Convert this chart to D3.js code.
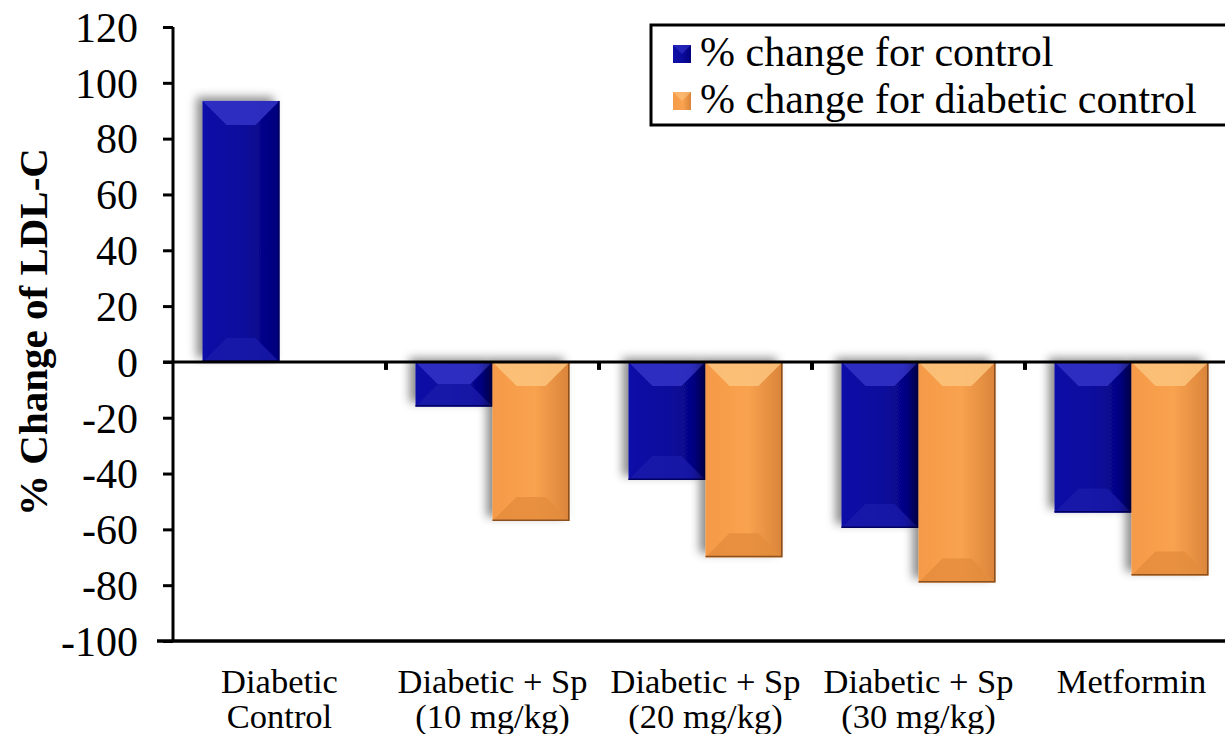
<!DOCTYPE html>
<html lang="en">
<head>
<meta charset="UTF-8">
<title>% Change of LDL-C</title>
<script src="https://d3js.org/d3.v7.min.js"></script>
<style>
  body { margin: 0; background: #fff; }
</style>
</head>
<body>
<div class="chart"></div>
<script>
// data
const categories = ["Diabetic|Control", "Diabetic + Sp|(10 mg/kg)", "Diabetic + Sp|(20 mg/kg)", "Diabetic + Sp|(30 mg/kg)", "Metformin"];
const seriesNames = ["% change for control", "% change for diabetic control"];
const controlChange = [93.5, -16, -42.3, -59.5, -54];
const diabeticChange = [null, -57, -70, -79, -76.5];
const yTicks = [120, 100, 80, 60, 40, 20, 0, -20, -40, -60, -80, -100];

const W = 1225, H = 734;
const FONT = "Liberation Serif";

const svg = d3.select(".chart").append("svg").attr("width", W).attr("height", H);
const defs = svg.append("defs");

// drop shadow behind bars
const f = defs.append("filter").attr("id", "shadow")
  .attr("x", "-30%").attr("y", "-30%").attr("width", "160%").attr("height", "160%");
f.append("feDropShadow").attr("dx", -6).attr("dy", -4).attr("stdDeviation", 5)
  .attr("flood-color", "#000").attr("flood-opacity", 0.45);

const palette = [
  { id: "blue", stops: ["#1010a8", "#0a0a9c", "#02027a"], top: "#3434c8", bot: "#1a1aaa", edge: "#000060" },
  { id: "orange", stops: ["#f59a48", "#f9a24f", "#d9843a"], top: "#fcc47e", bot: "#e48c3c", edge: "#8a5020" }
];
palette.forEach(p => {
  const g = defs.append("linearGradient").attr("id", "grad-" + p.id).attr("x1", 0).attr("x2", 1).attr("y1", 0).attr("y2", 0);
  g.append("stop").attr("offset", "0%").attr("stop-color", p.stops[0]);
  g.append("stop").attr("offset", "55%").attr("stop-color", p.stops[1]);
  g.append("stop").attr("offset", "100%").attr("stop-color", p.stops[2]);
});

const y = d3.scaleLinear().domain([-100, 120]).range([641, 27]);
const x0 = d3.scaleBand().domain(categories).range([173, 1238]).paddingInner(0).paddingOuter(0);
const x1 = d3.scaleBand().domain(seriesNames).range([0, x0.bandwidth()]).paddingInner(0).paddingOuter(0.383);

// bars
const rows = categories.map((c, i) => ({ cat: c, vals: [controlChange[i], diabeticChange[i]] }));
const groups = svg.append("g").selectAll("g").data(rows).enter().append("g")
  .attr("transform", d => `translate(${x0(d.cat)},0)`);

groups.each(function (d) {
  const g = d3.select(this);
  d.vals.forEach((v, si) => {
    if (v == null) return;
    const p = palette[si];
    const bx = x1(seriesNames[si]), bw = x1.bandwidth();
    const y0 = Math.min(y(v), y(0)), h = Math.abs(y(v) - y(0));
    const b = Math.min(24, h / 2);
    const bar = g.append("g");
    bar.append("rect").attr("x", bx).attr("y", y0).attr("width", bw).attr("height", h)
      .attr("fill", "url(#grad-" + p.id + ")").attr("filter", "url(#shadow)");
    bar.append("polygon")
      .attr("points", [[bx, y0], [bx + bw, y0], [bx + bw - b, y0 + b], [bx + b, y0 + b]].join(" "))
      .attr("fill", p.top).attr("opacity", 0.85);
    bar.append("polygon")
      .attr("points", [[bx, y0 + h], [bx + bw, y0 + h], [bx + bw - b, y0 + h - b], [bx + b, y0 + h - b]].join(" "))
      .attr("fill", p.bot).attr("opacity", 0.8);
    bar.append("path")
      .attr("d", `M${bx + bw - 0.75},${y0} V${y0 + h - 0.75} H${bx}`)
      .attr("fill", "none").attr("stroke", p.edge).attr("stroke-width", 1.5);
  });
});

// y axis
const yAxis = svg.append("g").attr("transform", "translate(173,0)")
  .call(d3.axisLeft(y).tickValues(yTicks).tickSize(10).tickPadding(25).tickFormat(d => String(d)));
yAxis.attr("font-family", FONT).attr("font-size", 42);
yAxis.select(".domain").attr("stroke", "#000").attr("stroke-width", 3).attr("d", "M0,27V641");
yAxis.selectAll(".tick line").attr("stroke", "#000").attr("stroke-width", 3);
yAxis.selectAll(".tick text").attr("font-family", FONT).attr("font-size", 42).attr("fill", "#000").attr("dy", "0.34em");

// bottom frame line
svg.append("line").attr("x1", 157).attr("x2", W).attr("y1", 641).attr("y2", 641)
  .attr("stroke", "#000").attr("stroke-width", 3.5);

// zero line with group separators
const zeroAxis = svg.append("g").attr("transform", `translate(0,${y(0)})`)
  .call(d3.axisBottom(x0).tickValues(categories.slice(1)).tickSize(8).tickFormat(""));
zeroAxis.select(".domain").remove();
zeroAxis.selectAll(".tick line")
  .attr("transform", `translate(${-x0.bandwidth() / 2},0)`)
  .attr("stroke", "#000").attr("stroke-width", 4);
svg.append("line").attr("x1", 163).attr("x2", W).attr("y1", y(0)).attr("y2", y(0))
  .attr("stroke", "#000").attr("stroke-width", 3);

// category labels
const catLabels = svg.append("g").selectAll("text").data(categories).enter().append("text")
  .attr("x", d => x0(d) + x0.bandwidth() / 2)
  .attr("y", 693)
  .attr("text-anchor", "middle")
  .attr("font-family", FONT)
  .attr("font-size", 34.5);
catLabels.each(function (d) {
  const t = d3.select(this);
  d.split("|").forEach((p, i) => {
    t.append("tspan").attr("x", t.attr("x")).attr("dy", i === 0 ? 0 : 35).text(p);
  });
});

// y title
svg.append("text")
  .attr("transform", "translate(47,332) rotate(-90)")
  .attr("text-anchor", "middle")
  .attr("font-family", FONT)
  .attr("font-size", 41)
  .attr("font-weight", "bold")
  .text("% Change of LDL-C");

// legend
const legend = svg.append("g");
legend.append("rect").attr("x", 651).attr("y", 25).attr("width", 600).attr("height", 100)
  .attr("fill", "#fff").attr("stroke", "#000").attr("stroke-width", 3);
seriesNames.forEach((s, i) => {
  const p = palette[i];
  const ly = 45 + i * 47;
  legend.append("rect").attr("x", 673).attr("y", ly).attr("width", 18).attr("height", 18)
    .attr("fill", "url(#grad-" + p.id + ")");
  legend.append("polygon")
    .attr("points", [[673, ly], [691, ly], [682, ly + 9]].join(" ")).attr("fill", p.top).attr("opacity", 0.6);
  legend.append("text").attr("x", 700).attr("y", ly + 21)
    .attr("font-family", FONT).attr("font-size", 42).text(s);
});
</script>
</body>
</html>
